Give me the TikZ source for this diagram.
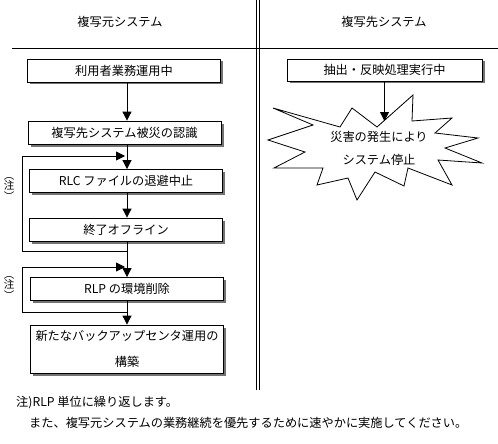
\documentclass[tikz,border=0pt]{standalone}
\usepackage{fontspec}
\setmainfont{Noto Sans CJK JP}
\usetikzlibrary{arrows.meta,shadows}

\begin{document}
\begin{tikzpicture}[
        x=1pt, y=-1pt,
        font=\fontsize{12.2}{14}\selectfont,
        box/.style={rectangle, draw, fill=white, line width=0.8pt, minimum width=193pt, minimum height=23pt, inner sep=0pt, align=center,
            drop shadow={shadow xshift=2.5pt, shadow yshift=-2.5pt, fill=black!55, opacity=1}},
        arrow/.style={-{Triangle[width=9pt,length=9pt]}, line width=0.8pt},
        line/.style={line width=0.8pt},
        note/.style={font=\fontsize{10.5}{10.5}\selectfont, align=center, inner sep=0pt}
    ]
        \useasboundingbox (0,0) rectangle (498,444);

        % Frame of the two columns
        \draw[line] (12,48) -- (498,48);
        \draw[line] (256.5,0) -- (256.5,390);
        \draw[line] (259,0) -- (259,390);
        \node (srcsys) at (120,22) {複写元システム};
        \node (dstsys) at (384,22) {複写先システム};

        % Left column flow
        \node[box] (work) at (124,70.5) {利用者業務運用中};
        \node[box] (aware) at (124.5,132.5) {複写先システム被災の認識};
        \node[box] (rlc) at (126,181) {RLC ファイルの退避中止};
        \node[box] (offline) at (126,229.5) {終了オフライン};
        \node[box] (rlp) at (127,289) {RLP の環境削除};
        \node[box, minimum height=48pt, font=\fontsize{12.2}{26}\selectfont] (newctr) at (127,349)
            {新たなバックアップセンタ運用の\\構築};

        % Right column
        \node[box, minimum width=195pt, minimum height=22pt] (extract) at (384.5,70) {抽出・反映処理実行中};
        \draw[line, fill=white] (268,140) -- (313,125) -- (273,108) -- (340,127) -- (352,108)
            -- (377,127) -- (413,95) -- (412,121) -- (452,118) -- (435,133) -- (478,138)
            -- (445,148) -- (482,163) -- (438,160) -- (452,185) -- (408,168) -- (404,186)
            -- (375,172) -- (357,200) -- (348,178) -- (317,185) -- (323,168) -- (274,168)
            -- (305,152) -- cycle;
        \node[align=center, font=\fontsize{12.2}{23}\selectfont] (disaster) at (379,148.5) {災害の発生により\\システム停止};
        \coordinate (hit) at (extract.south |- 0,121);

        % Notes
        \node[note] (note1) at (9,189) {︵\\注\\︶};
        \node[note] (note2) at (9,288) {︵\\注\\︶};
        \node[anchor=west, inner sep=0pt] (foot1) at (16,403) {注)RLP 単位に繰り返します。};
        \node[anchor=west, inner sep=0pt] (foot2) at (29,423) {また、複写元システムの業務継続を優先するために速やかに実施してください。};

        % Loop corners
        \coordinate (spine) at (127,0);
        \coordinate (loopa) at (22,251);
        \coordinate (loopb) at (22,156);
        \coordinate (loopc) at (22,312);
        \coordinate (loopd) at (22,267);

        % Arrows
        \draw[arrow] (work.south -| spine) -- (aware.north -| spine);
        \draw[arrow] (aware.south -| spine) -- (rlc.north -| spine);
        \draw[arrow] (offline.south -| spine) |- (loopa) -- (loopb) -- ([xshift=-2pt]loopb -| spine);
        \draw[arrow] (rlc.south -| spine) -- (offline.north -| spine);
        \draw[arrow] (offline.south -| spine) -- (rlp.north -| spine);
        \draw[arrow] (rlp.south -| spine) |- (loopc) -- (loopd) -- ([xshift=-2pt]loopd -| spine);
        \draw[arrow] (rlp.south -| spine) -- (newctr.north -| spine);
        \draw[arrow] (extract.south) -- (hit);
    \end{tikzpicture}
\end{document}
